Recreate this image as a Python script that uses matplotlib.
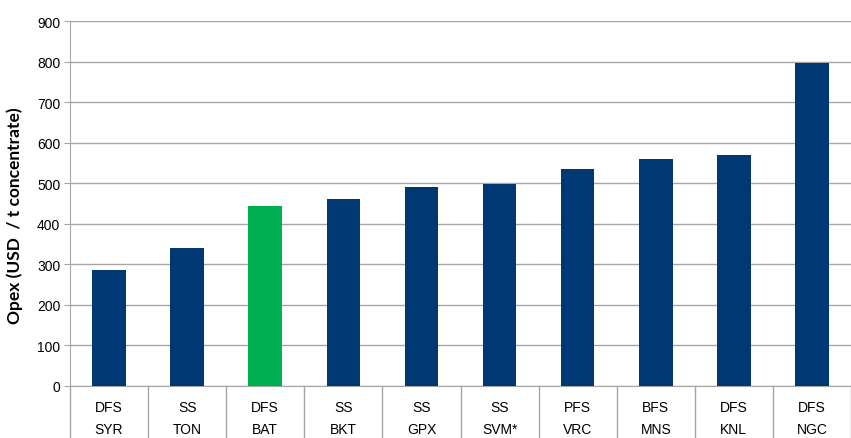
import numpy as np
import matplotlib.pyplot as plt
from matplotlib.transforms import blended_transform_factory

plt.rcParams['font.family'] = ['Liberation Sans', 'DejaVu Sans']

# data
studies = ['DFS', 'SS', 'DFS', 'SS', 'SS', 'SS', 'PFS', 'BFS', 'DFS', 'DFS']
projects = ['SYR', 'TON', 'BAT', 'BKT', 'GPX', 'SVM*', 'VRC', 'MNS', 'KNL', 'NGC']
opex = [285, 340, 443, 460, 490, 498, 535, 560, 570, 797]
highlight = 'BAT'

navy = '#003873'
green = '#00B050'
grid_col = '#a6a6a6'

fig = plt.figure(figsize=(8.51, 4.39), dpi=100)
ax = fig.add_axes([70 / 851, 52 / 439, 781 / 851, 365 / 439])

x = np.arange(len(projects))
colors = [green if p == highlight else navy for p in projects]
ax.bar(x, opex, width=0.43, color=colors, zorder=3)

ax.set_xlim(-0.5, len(projects) - 0.5)
ax.set_ylim(0, 900)
ax.set_yticks(np.arange(0, 901, 100))
ax.tick_params(axis='y', labelsize=10, length=4, pad=3, labelcolor='black', color=grid_col)
ax.set_xticks([])
ax.grid(axis='y', color=grid_col, linewidth=1, zorder=0)
for s in ['top', 'right']:
    ax.spines[s].set_visible(False)
ax.spines['left'].set_color(grid_col)
ax.spines['bottom'].set_color(grid_col)
ax.set_ylabel('Opex (USD  / t concentrate)', fontsize=12.5, fontweight='bold',
              family=['Lato', 'DejaVu Sans'])
ax.yaxis.set_label_coords(-0.060, 0.47)

# two-row category labels with separators
tr = blended_transform_factory(ax.transData, ax.transAxes)
for i, (s, p) in enumerate(zip(studies, projects)):
    ax.text(i, -0.058, s, transform=tr, ha='center', va='center', fontsize=10, clip_on=False)
    ax.text(i, -0.118, p, transform=tr, ha='center', va='center', fontsize=10, clip_on=False)
for b in np.arange(-0.5, len(projects) - 0.4, 1.0):
    ax.plot([b, b], [0, -0.16], transform=tr, color=grid_col, linewidth=1, clip_on=False)

fig.savefig('out.png', dpi=100)
